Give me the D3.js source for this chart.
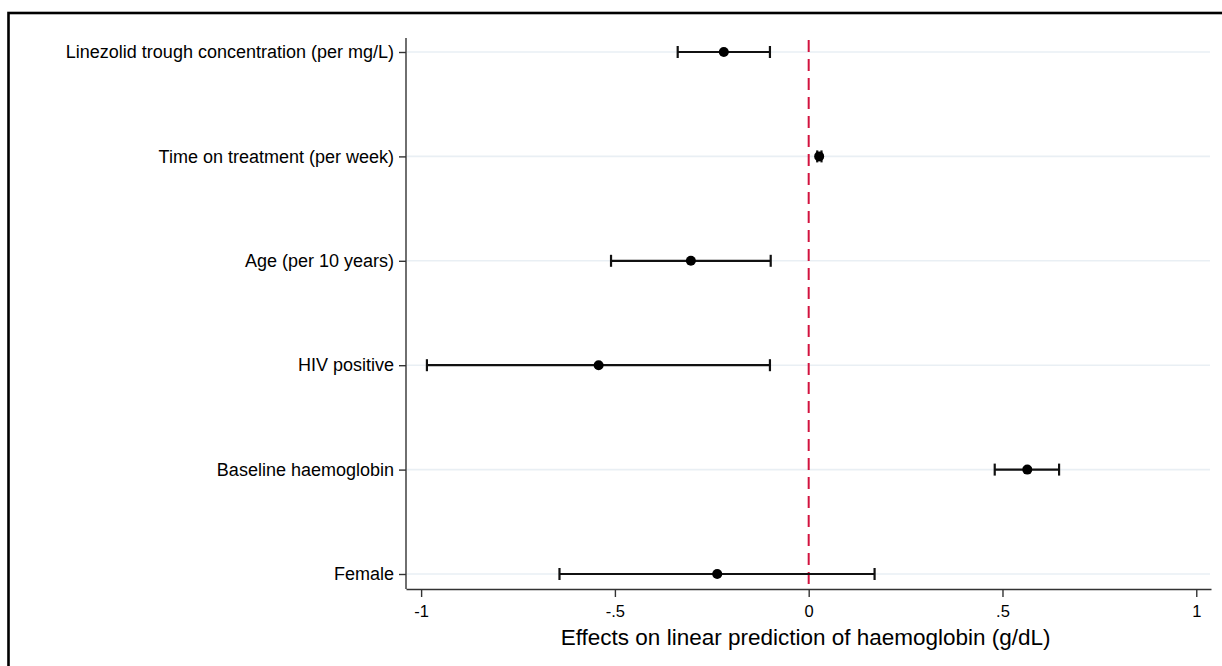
<!DOCTYPE html>
<html>
<head>
<meta charset="utf-8">
<script src="https://cdn.jsdelivr.net/npm/d3@7"></script>
<style>
  html, body { margin: 0; padding: 0; background: #fff; }
  svg { display: block; }
  text { font-family: "Liberation Sans", Arial, Helvetica, sans-serif; fill: #000; }
</style>
</head>
<body>
<svg id="chart" width="1222" height="666"></svg>
<script>
// Coefficients from the haemoglobin model (point estimate with 95% CI)
const terms = [
  "Linezolid trough concentration (per mg/L)",
  "Time on treatment (per week)",
  "Age (per 10 years)",
  "HIV positive",
  "Baseline haemoglobin",
  "Female"
];
const estimates = [-0.219, 0.027, -0.304, -0.542, 0.564, -0.236];
const lowerCI   = [-0.338, 0.022, -0.510, -0.985, 0.480, -0.643];
const upperCI   = [-0.100, 0.033, -0.098, -0.100, 0.646, 0.170];
const xTicks = [-1, -0.5, 0, 0.5, 1];
const xTickLabels = ["-1", "-.5", "0", ".5", "1"];
const xTitle = "Effects on linear prediction of haemoglobin (g/dL)";

const rows = terms.map((t, i) => ({ term: t, est: estimates[i], lo: lowerCI[i], hi: upperCI[i] }));

const svg = d3.select("#chart");

// outer frame
svg.append("rect")
  .attr("x", 8.5).attr("y", 13).attr("width", 1240).attr("height", 700)
  .attr("fill", "none").attr("stroke", "#000").attr("stroke-width", 2.6);

const plot = { left: 406, right: 1211, top: 38, bottom: 589 };

const x = d3.scaleLinear().domain([-1.039, 1.038]).range([plot.left, plot.right]);
const y = d3.scalePoint().domain(terms).range([52, 574]);

// horizontal grid lines
svg.append("g").selectAll("line").data(terms).join("line")
  .attr("x1", plot.left + 1).attr("x2", 1210)
  .attr("y1", d => y(d)).attr("y2", d => y(d))
  .attr("stroke", "#e9eff4").attr("stroke-width", 1.6);

// x axis
const xAxis = svg.append("g")
  .attr("transform", `translate(0,${plot.bottom})`)
  .call(d3.axisBottom(x).tickValues(xTicks).tickFormat((d, i) => xTickLabels[i]).tickSize(8).tickSizeOuter(0).tickPadding(8));
xAxis.select(".domain").attr("stroke", "#333").attr("stroke-width", 1.4);
xAxis.selectAll(".tick line").attr("stroke", "#333").attr("stroke-width", 1.4);
xAxis.selectAll(".tick text").attr("font-size", 16.5).style("font-family", '"Liberation Sans", Arial, sans-serif').attr("fill", "#000");

// y axis
const yAxis = svg.append("g")
  .attr("transform", `translate(${plot.left},0)`)
  .call(d3.axisLeft(y).tickSize(7).tickSizeOuter(0).tickPadding(5));
yAxis.select(".domain").attr("d", `M0,${plot.top}V${plot.bottom}`).attr("stroke", "#333").attr("stroke-width", 1.4);
yAxis.selectAll(".tick line").attr("stroke", "#333").attr("stroke-width", 1.4);
yAxis.selectAll(".tick text").attr("font-size", 18).style("font-family", '"Liberation Sans", Arial, sans-serif').attr("fill", "#000");

// reference line at zero
svg.append("line")
  .attr("x1", x(0)).attr("x2", x(0))
  .attr("y1", plot.top + 2).attr("y2", plot.bottom)
  .attr("stroke", "#d2133f").attr("stroke-width", 2)
  .attr("stroke-dasharray", "12,7");

// confidence intervals
const ci = svg.append("g").attr("stroke", "#111").attr("stroke-width", 2.2).attr("fill", "none");
ci.selectAll("line.bar").data(rows).join("line").attr("class", "bar")
  .attr("x1", d => x(d.lo)).attr("x2", d => x(d.hi))
  .attr("y1", d => y(d.term)).attr("y2", d => y(d.term));
ci.selectAll("line.capl").data(rows).join("line").attr("class", "capl")
  .attr("x1", d => x(d.lo)).attr("x2", d => x(d.lo))
  .attr("y1", d => y(d.term) - 6).attr("y2", d => y(d.term) + 6);
ci.selectAll("line.caph").data(rows).join("line").attr("class", "caph")
  .attr("x1", d => x(d.hi)).attr("x2", d => x(d.hi))
  .attr("y1", d => y(d.term) - 6).attr("y2", d => y(d.term) + 6);

// point estimates
svg.append("g").selectAll("circle").data(rows).join("circle")
  .attr("cx", d => x(d.est)).attr("cy", d => y(d.term)).attr("r", 5)
  .attr("fill", "#000");

// axis title
svg.append("text")
  .attr("x", (x(-1) + x(1)) / 2 - 3).attr("y", 645)
  .attr("text-anchor", "middle").attr("font-size", 22.5)
  .text(xTitle);
</script>
</body>
</html>
